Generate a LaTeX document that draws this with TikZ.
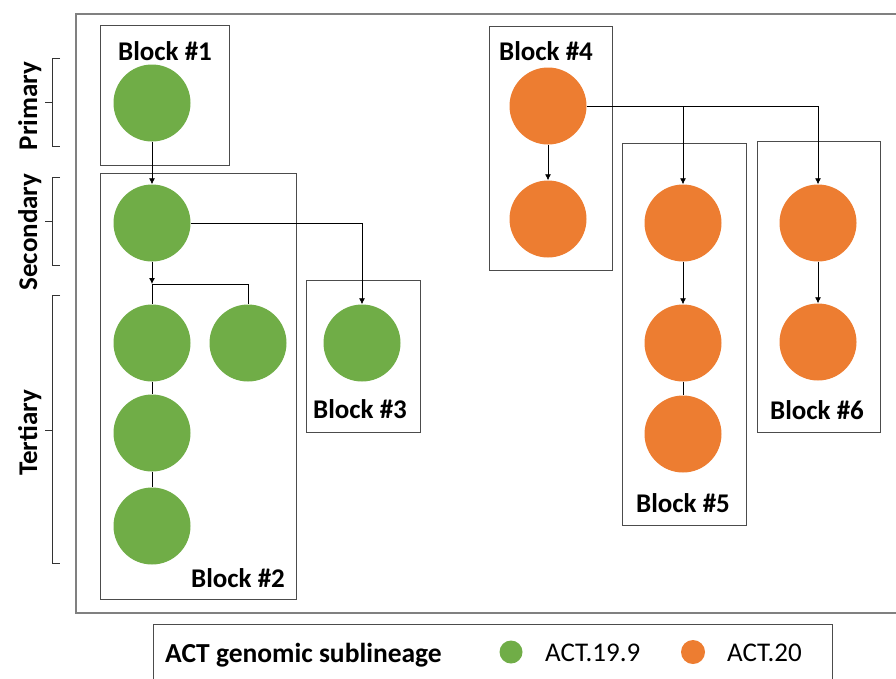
\documentclass[tikz,border=0pt]{standalone}
\usepackage{fontspec}
\setmainfont{Carlito}
\usetikzlibrary{arrows.meta,positioning}

\definecolor{actgreen}{HTML}{70AD47}
\definecolor{actorange}{HTML}{ED7D31}

\begin{document}
\begin{tikzpicture}[
    x=1pt, y=-1pt,
    greennode/.style={circle, fill=actgreen, minimum size=77pt, inner sep=0pt},
    orangenode/.style={circle, fill=actorange, minimum size=77pt, inner sep=0pt},
    block/.style={rectangle, draw=black!70, line width=0.8pt, inner sep=0pt},
    blocklabel/.style={font=\fontsize{27}{32}\selectfont\bfseries, anchor=base, inner sep=0pt},
    levellabel/.style={font=\fontsize{27}{32}\selectfont\bfseries, rotate=90, anchor=base, inner sep=0pt},
    legendtext/.style={font=\fontsize{27}{32}\selectfont, anchor=base west, inner sep=0pt},
    arrow/.style={-{Latex[length=6pt,width=6pt]}, line width=0.8pt},
    link/.style={line width=0.8pt},
    bracket/.style={line width=0.8pt, black!80}
  ]

    \clip (0,0) rectangle (896,678);

    % Outer frame and legend box (both run off the page)
    \node[rectangle, draw=black!50, line width=1.5pt, minimum width=829pt, minimum height=599pt] (frame) at (490.5,313.5) {};
    \node[block, minimum width=679pt, minimum height=76pt] (legend) at (492.5,662) {};

    % Level brackets on the left
    \draw[bracket] (60,58) -- (52,58) -- (52,146) -- (60,146) (52,102) -- (45,102);
    \draw[bracket] (60,177) -- (52,177) -- (52,265) -- (60,265) (52,221) -- (45,221);
    \draw[bracket] (60,295) -- (52,295) -- (52,563) -- (60,563) (52,430) -- (45,430);
    \node[levellabel] (primary) at (37,106) {Primary};
    \node[levellabel] (secondary) at (37,232) {Secondary};
    \node[levellabel] (tertiary) at (37,433) {Tertiary};

    % Blocks
    \node[block, minimum width=129pt, minimum height=140pt] (block1) at (164.5,95) {};
    \node[block, minimum width=196pt, minimum height=426pt] (block2) at (198,386) {};
    \node[block, minimum width=114pt, minimum height=152pt] (block3) at (363,356) {};
    \node[block, minimum width=123pt, minimum height=244pt] (block4) at (550.5,148) {};
    \node[block, minimum width=124pt, minimum height=382pt] (block5) at (684,334) {};
    \node[block, minimum width=123pt, minimum height=291pt] (block6) at (818.5,286.5) {};

    \node[blocklabel] (lab1) at (165,60) {Block \#1};
    \node[blocklabel] (lab2) at (238,587) {Block \#2};
    \node[blocklabel] (lab3) at (360,418) {Block \#3};
    \node[blocklabel] (lab4) at (546,60) {Block \#4};
    \node[blocklabel] (lab5) at (683,512) {Block \#5};
    \node[blocklabel] (lab6) at (817,419) {Block \#6};

    % ACT.19.9 sublineage
    \node[greennode] (g1) at (152,103) {};
    \node[greennode] (g2) at (152,223) {};
    \node[greennode] (t1) at (152,343) {};
    \node[greennode] (t2) at (248,343) {};
    \node[greennode] (t3) at (152,433) {};
    \node[greennode] (t4) at (152,526) {};
    \node[greennode] (g3) at (362,343) {};
    \coordinate (split) at (152,284);

    % ACT.20 sublineage
    \node[orangenode] (o4a) at (548,106) {};
    \node[orangenode] (o4b) at (548,219) {};
    \node[orangenode] (o5a) at (683,223) {};
    \node[orangenode] (o5b) at (683,343) {};
    \node[orangenode] (o5c) at (683,434) {};
    \node[orangenode] (o6a) at (818,223) {};
    \node[orangenode] (o6b) at (818,342) {};

    % Connectors
    \draw[arrow] (g1) -- (g2);
    \draw[arrow] (g2) -- (split);
    \draw[link] (split) -- (t1);
    \draw[link] (split) -| (t2);
    \draw[link] (t1) -- (t3);
    \draw[link] (t3) -- (t4);
    \draw[arrow] (g2) -| (g3);
    \draw[arrow] (o4a) -- (o4b);
    \draw[arrow] (o4a) -| (o5a);
    \draw[arrow] (o4a) -| (o6a);
    \draw[arrow] (o5a) -- (o5b);
    \draw[link] (o5b) -- (o5c);
    \draw[arrow] (o6a) -- (o6b);

    % Legend
    \node[legendtext, font=\fontsize{27.5}{32}\selectfont\bfseries] (legtitle) at (165,662) {ACT genomic sublineage};
    \node[circle, fill=actgreen, minimum size=23pt, inner sep=0pt] (leggreen) at (511,652) {};
    \node[legendtext] (legact199) at (545,661) {ACT.19.9};
    \node[circle, fill=actorange, minimum size=24pt, inner sep=0pt] (legorange) at (693,652) {};
    \node[legendtext] (legact20) at (727,661) {ACT.20};

\end{tikzpicture}
\end{document}
